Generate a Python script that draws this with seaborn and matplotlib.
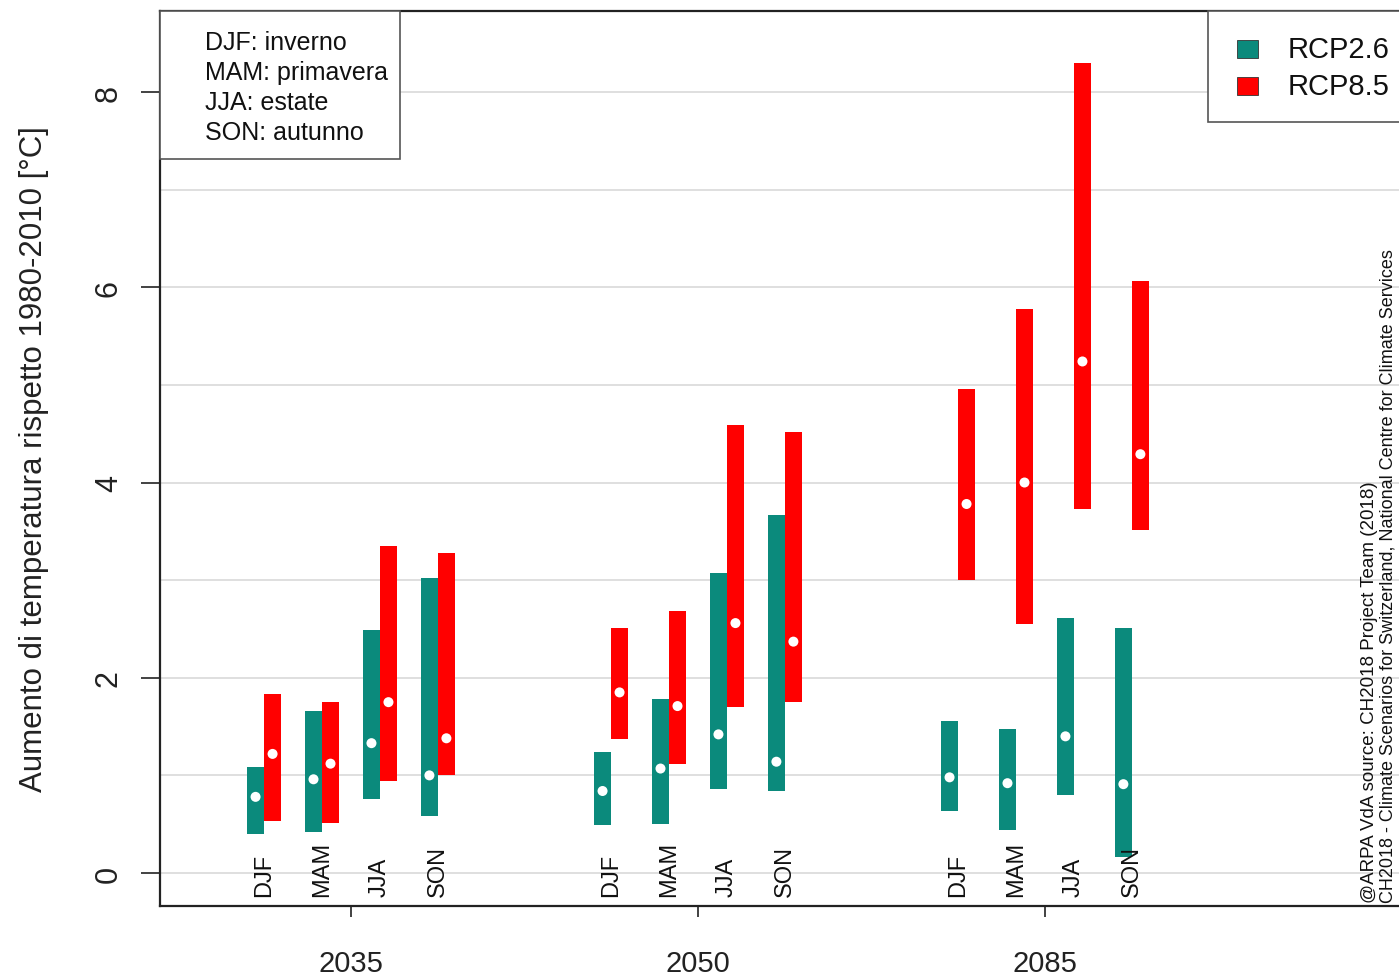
import numpy as np
import pandas as pd
import matplotlib
matplotlib.use("Agg")
import matplotlib.pyplot as plt
from matplotlib.patches import Rectangle
import seaborn as sns

# ---------------- data ----------------
periods = ["2035", "2050", "2085"]
seasons = ["DJF", "MAM", "JJA", "SON"]
scenarios = ["RCP2.6", "RCP8.5"]

# RCP2.6 (low, median, high) per period, season order DJF MAM JJA SON
rcp26_low = [[0.40, 0.42, 0.76, 0.58],
             [0.49, 0.50, 0.86, 0.84],
             [0.64, 0.44, 0.80, 0.16]]
rcp26_med = [[0.78, 0.96, 1.33, 1.00],
             [0.84, 1.07, 1.42, 1.14],
             [0.98, 0.92, 1.40, 0.91]]
rcp26_high = [[1.09, 1.66, 2.49, 3.02],
              [1.24, 1.78, 3.07, 3.67],
              [1.56, 1.48, 2.61, 2.51]]

rcp85_low = [[0.53, 0.51, 0.94, 1.00],
             [1.37, 1.12, 1.70, 1.75],
             [3.00, 2.55, 3.73, 3.51]]
rcp85_med = [[1.22, 1.12, 1.75, 1.38],
             [1.85, 1.71, 2.56, 2.37],
             [3.78, 4.00, 5.24, 4.29]]
rcp85_high = [[1.83, 1.75, 3.35, 3.28],
              [2.51, 2.68, 4.59, 4.52],
              [4.96, 5.78, 8.30, 6.06]]

season_names = ["DJF: inverno", "MAM: primavera", "JJA: estate", "SON: autunno"]
ylabel = "Aumento di temperatura rispetto 1980-2010 [°C]"
credit1 = "@ARPA VdA source: CH2018 Project Team (2018)"
credit2 = "CH2018 - Climate Scenarios for Switzerland, National Centre for Climate Services"

colors = {"RCP2.6": "#0b8a7c", "RCP8.5": "#ff0000"}

rows = []
for pi, p in enumerate(periods):
    for si, s in enumerate(seasons):
        rows.append(dict(period=p, pi=pi, season=s, si=si, scenario="RCP2.6",
                         low=rcp26_low[pi][si], med=rcp26_med[pi][si], high=rcp26_high[pi][si]))
        rows.append(dict(period=p, pi=pi, season=s, si=si, scenario="RCP8.5",
                         low=rcp85_low[pi][si], med=rcp85_med[pi][si], high=rcp85_high[pi][si]))
df = pd.DataFrame(rows)

season_step = 0.167
bar_w = 0.049
df["xc"] = df["pi"] + (df["si"] - 1.5) * season_step
df["x"] = df["xc"] + np.where(df["scenario"] == "RCP2.6", -bar_w / 2, bar_w / 2)

# ---------------- plot ----------------
sns.set_theme(style="white")
plt.rcParams["font.family"] = ["Liberation Sans", "DejaVu Sans"]

W, H = 1399, 979
fig = plt.figure(figsize=(W / 100, H / 100), dpi=100)
ax = fig.add_axes([160 / W, 1 - 907 / H, (1410 - 160) / W, (907 - 12) / H])
ax.set_xlim(-0.5504, 3.052)
ax.set_ylim(-0.338, 8.83)

# gridlines
for v in range(0, 9):
    ax.axhline(v, color="#d6d6d6", lw=1.1, zorder=0)

for sc in scenarios:
    d = df[df["scenario"] == sc]
    ax.bar(d["x"], d["high"] - d["low"], bottom=d["low"], width=bar_w,
           color=colors[sc], edgecolor="none", zorder=2)

sns.scatterplot(data=df, x="x", y="med", color="white", edgecolor="none",
                s=52, ax=ax, zorder=3, legend=False)

# season labels
for _, r in df[df["scenario"] == "RCP2.6"].iterrows():
    ax.text(r["xc"], -0.24, r["season"], rotation=90, ha="center", va="bottom",
            fontsize=17, color="#111111", zorder=4)

ax.set_xticks(range(len(periods)))
ax.set_xticklabels(periods, fontsize=21)
ax.set_yticks([0, 2, 4, 6, 8])
ax.set_yticklabels(["0", "2", "4", "6", "8"], fontsize=22, rotation=90, va="center")
ax.tick_params(axis="y", length=14, width=1.2, pad=12, left=True, colors="#222222")
ax.tick_params(axis="x", length=8, width=1.2, pad=23, bottom=True, colors="#222222")
ax.set_xlabel("")
ax.set_ylabel(ylabel, fontsize=22.5, labelpad=32, color="#222222")

for sp in ["left", "bottom", "top"]:
    ax.spines[sp].set_color("#222222")
    ax.spines[sp].set_linewidth(1.6)
ax.spines["right"].set_visible(False)

# season legend box (upper left)
def fx(px):
    return px / W
def fy(py):
    return 1 - py / H

fig.patches.append(Rectangle((fx(160), fy(160)), fx(400) - fx(160), fy(12) - fy(160),
                             transform=fig.transFigure, facecolor="white",
                             edgecolor="#555555", lw=1.2, zorder=5))
for i, t in enumerate(season_names):
    fig.text(fx(205), fy(43 + 30 * i), t, fontsize=18, va="center", ha="left",
             color="#111111", zorder=6)

# scenario legend box (upper right)
fig.patches.append(Rectangle((fx(1208), fy(123)), fx(1420) - fx(1208), fy(12) - fy(123),
                             transform=fig.transFigure, facecolor="white",
                             edgecolor="#555555", lw=1.2, zorder=5))
for i, sc in enumerate(scenarios):
    yc = 50 + 37 * i
    fig.patches.append(Rectangle((fx(1237), fy(yc + 9)), fx(1258) - fx(1237), fy(yc - 9) - fy(yc + 9),
                                 transform=fig.transFigure, facecolor=colors[sc],
                                 edgecolor="#333333", lw=0.6, zorder=6))
    fig.text(fx(1288), fy(yc), sc, fontsize=21, va="center", ha="left",
             color="#111111", zorder=6)

# credits
fig.text(fx(1369), fy(903), credit1, rotation=90, fontsize=13.5, ha="center", va="bottom",
         color="#111111")
fig.text(fx(1388), fy(903), credit2, rotation=90, fontsize=13, ha="center", va="bottom",
         color="#111111")

fig.savefig("out.png", dpi=100)
